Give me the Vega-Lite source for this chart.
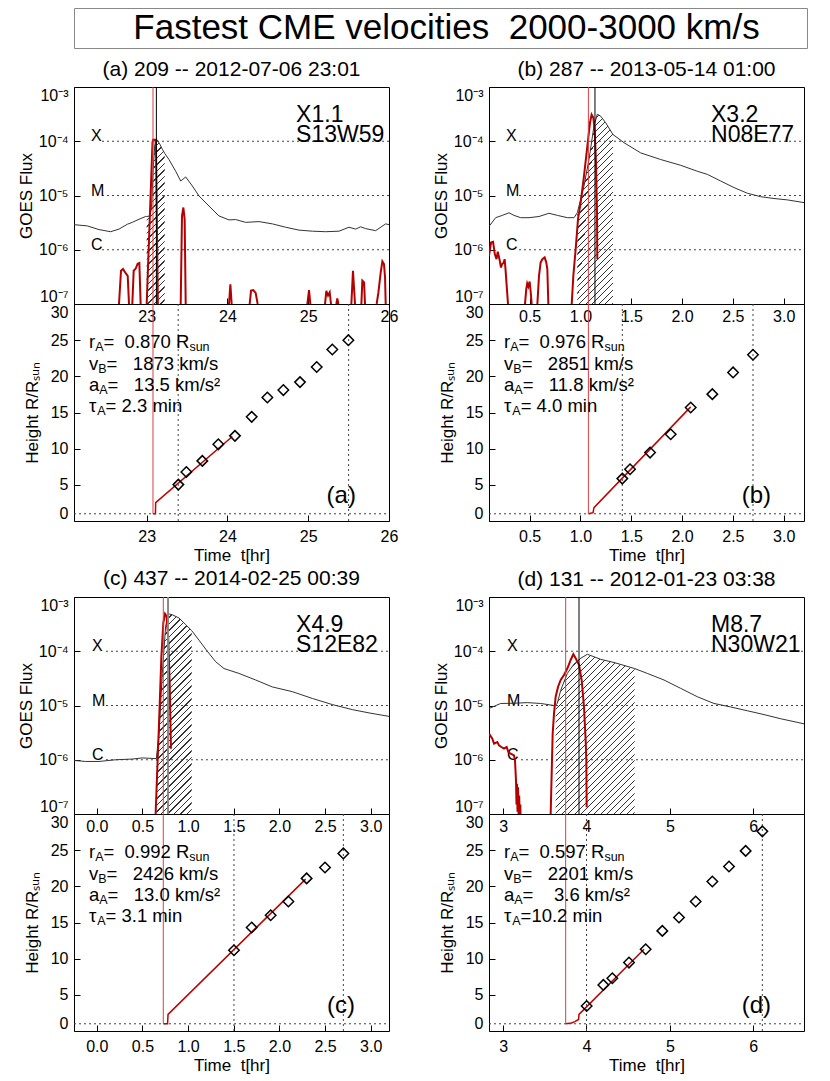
{
"$schema": "https://vega.github.io/schema/vega-lite/v6.json",
"padding": {"left": 16, "top": 7, "right": 5, "bottom": 5},
"background": "white",
"config": {
 "font": "Liberation Sans",
 "view": {"stroke": "#000", "strokeWidth": 1},
 "axis": {"grid": false, "domain": false, "tickSize": -6, "tickColor": "#000", "tickWidth": 1, "labelColor": "#000", "labelFontSize": 16, "labelOverlap": false, "labelFlush": false, "titleColor": "#000", "titleFontSize": 17, "titleFontWeight": "normal"},
 "axisY": {"labelPadding": 12, "labelFlush": true, "labelOverlap": false, "titleAngle": 270, "titleBaseline": "alphabetic"},
 "title": {"fontSize": 21, "fontWeight": "normal", "offset": 7, "baseline": "alphabetic", "frame": "group", "anchor": "middle", "color": "#000"},
 "text": {"color": "#000"}
},
"datasets": {
 "lev": [{"f":1e-4,"c":"X"},{"f":1e-5,"c":"M"},{"f":1e-6,"c":"C"}],
 "ann": [
  {"k":0,"a":"r","s":"A","u":"sun","h":23.86,"pa":"=\u00a0\u00a00.870 R","pb":"=\u00a0\u00a00.976 R","pc":"=\u00a0\u00a00.992 R","pd":"=\u00a0\u00a00.597 R"},
  {"k":1,"a":"v","s":"B","u":"","h":20.91,"pa":"=\u00a0\u00a0\u00a01873 km/s","pb":"=\u00a0\u00a0\u00a02851 km/s","pc":"=\u00a0\u00a0\u00a02426 km/s","pd":"=\u00a0\u00a0\u00a02201 km/s"},
  {"k":2,"a":"a","s":"A","u":"","h":18.0,"pa":"=\u00a0\u00a0\u00a013.5 km/s\u00b2","pb":"=\u00a0\u00a0\u00a011.8 km/s\u00b2","pc":"=\u00a0\u00a0\u00a013.0 km/s\u00b2","pd":"=\u00a0\u00a0\u00a0\u00a03.6 km/s\u00b2"},
  {"k":3,"a":"\u03c4","s":"A","u":"","h":15.1,"pa":"= 2.3 min","pb":"= 4.0 min","pc":"= 3.1 min","pd":"=10.2 min"}
 ],
 "ga": [{"t":22.1,"f":2.9e-6},{"t":22.265,"f":2.75e-6},{"t":22.41,"f":2.35e-6},{"t":22.554,"f":2.15e-6},{"t":22.657,"f":2.4e-6},{"t":22.76,"f":2.95e-6},{"t":22.822,"f":3.2e-6},{"t":22.905,"f":3.65e-6},{"t":22.987,"f":4.1e-6},{"t":23.0,"f":4.1e-6},{"t":23.04,"f":4.2e-6},{"t":23.06,"f":6e-6},{"t":23.08,"f":3e-5},{"t":23.1,"f":8.5e-5},{"t":23.12,"f":1.1e-4},{"t":23.16,"f":9e-5},{"t":23.194,"f":7.1e-5},{"t":23.223,"f":6e-5},{"t":23.276,"f":4.6e-5},{"t":23.359,"f":2.8e-5},{"t":23.421,"f":1.85e-5},{"t":23.483,"f":2.2e-5},{"t":23.565,"f":1.5e-5},{"t":23.648,"f":9.8e-6},{"t":23.771,"f":6.4e-6},{"t":23.895,"f":4.2e-6},{"t":24.019,"f":3.55e-6},{"t":24.102,"f":3.6e-6},{"t":24.225,"f":3.2e-6},{"t":24.39,"f":3.3e-6},{"t":24.556,"f":3.0e-6},{"t":24.721,"f":2.6e-6},{"t":24.886,"f":2.3e-6},{"t":25.051,"f":2.2e-6},{"t":25.216,"f":2.15e-6},{"t":25.381,"f":2.2e-6},{"t":25.505,"f":2.6e-6},{"t":25.587,"f":2.4e-6},{"t":25.649,"f":2.65e-6},{"t":25.711,"f":2.45e-6},{"t":25.835,"f":2.25e-6},{"t":25.959,"f":3.0e-6},{"t":26.0,"f":2.9e-6}],
 "ra": [
  {"s":1,"t":22.657,"f":1e-7},{"s":1,"t":22.682,"f":4.1e-7},{"s":1,"t":22.707,"f":4.4e-7},{"s":1,"t":22.74,"f":3.7e-7},{"s":1,"t":22.765,"f":3.3e-7},{"s":1,"t":22.781,"f":1e-7},
  {"s":2,"t":22.822,"f":1e-7},{"s":2,"t":22.839,"f":4.1e-7},{"s":2,"t":22.864,"f":4.5e-7},{"s":2,"t":22.888,"f":5.5e-7},{"s":2,"t":22.909,"f":5.7e-7},{"s":2,"t":22.925,"f":1e-7},
  {"s":3,"t":23.0,"f":1e-7},{"s":3,"t":23.072,"f":9.5e-5},{"s":3,"t":23.08,"f":1.07e-4},{"s":3,"t":23.105,"f":1.07e-4},{"s":3,"t":23.115,"f":9e-5},{"s":3,"t":23.138,"f":1e-7},
  {"s":4,"t":23.421,"f":1e-7},{"s":4,"t":23.437,"f":4.2e-6},{"s":4,"t":23.454,"f":6.0e-6},{"s":4,"t":23.47,"f":3.6e-6},{"s":4,"t":23.483,"f":1e-7},
  {"s":5,"t":24.019,"f":1e-7},{"s":5,"t":24.036,"f":2.3e-7},{"s":5,"t":24.052,"f":1e-7},
  {"s":6,"t":24.275,"f":1e-7},{"s":6,"t":24.292,"f":1.76e-7},{"s":6,"t":24.32,"f":1.8e-7},{"s":6,"t":24.349,"f":1.6e-7},{"s":6,"t":24.374,"f":1e-7},
  {"s":7,"t":24.989,"f":1e-7},{"s":7,"t":25.01,"f":1.8e-7},{"s":7,"t":25.026,"f":1e-7},
  {"s":8,"t":25.208,"f":1e-7},{"s":8,"t":25.224,"f":1.74e-7},{"s":8,"t":25.245,"f":1.43e-7},{"s":8,"t":25.266,"f":1.64e-7},{"s":8,"t":25.282,"f":1e-7},
  {"s":9,"t":25.348,"f":1e-7},{"s":9,"t":25.36,"f":1.27e-7},{"s":9,"t":25.373,"f":1e-7},
  {"s":10,"t":25.534,"f":1e-7},{"s":10,"t":25.554,"f":4.1e-7},{"s":10,"t":25.579,"f":1e-7},
  {"s":11,"t":25.658,"f":1e-7},{"s":11,"t":25.67,"f":2.7e-7},{"s":11,"t":25.691,"f":2.5e-7},{"s":11,"t":25.703,"f":1e-7},
  {"s":12,"t":25.847,"f":1e-7},{"s":12,"t":25.868,"f":1.6e-7},{"s":12,"t":25.897,"f":3.8e-7},{"s":12,"t":25.918,"f":6.1e-7},{"s":12,"t":25.938,"f":5.45e-7},{"s":12,"t":25.951,"f":3.1e-7},{"s":12,"t":25.959,"f":1e-7}
 ],
 "da": [{"t":23.392,"h":5.03},{"t":23.491,"h":6.78},{"t":23.689,"h":8.31},{"t":23.887,"h":10.6},{"t":24.093,"h":11.77},{"t":24.3,"h":14.4},{"t":24.494,"h":17.07},{"t":24.692,"h":18.1},{"t":24.898,"h":19.2},{"t":25.105,"h":21.3},{"t":25.298,"h":23.7},{"t":25.497,"h":25.0}],
 "fa": [{"t":23.078,"h":1.0},{"t":23.108,"h":1.0},{"t":23.111,"h":2.54},{"t":24.06,"h":11.68}],
 "gb": [{"t":0.1,"f":2.7e-6},{"t":0.166,"f":3.9e-6},{"t":0.231,"f":4.3e-6},{"t":0.297,"f":4.8e-6},{"t":0.346,"f":4.3e-6},{"t":0.412,"f":3.9e-6},{"t":0.494,"f":3.9e-6},{"t":0.592,"f":4.1e-6},{"t":0.69,"f":4.7e-6},{"t":0.773,"f":4.3e-6},{"t":0.871,"f":3.9e-6},{"t":0.937,"f":3.9e-6},{"t":0.969,"f":4.8e-6},{"t":1.035,"f":1.5e-5},{"t":1.084,"f":4.6e-5},{"t":1.133,"f":1.9e-4},{"t":1.166,"f":3.15e-4},{"t":1.199,"f":2.9e-4},{"t":1.248,"f":2.2e-4},{"t":1.32,"f":1.33e-4},{"t":1.429,"f":9.4e-5},{"t":1.593,"f":6.1e-5},{"t":1.79,"f":4.6e-5},{"t":1.987,"f":3.6e-5},{"t":2.15,"f":2.8e-5},{"t":2.249,"f":2.45e-5},{"t":2.38,"f":1.85e-5},{"t":2.511,"f":1.4e-5},{"t":2.643,"f":1.1e-5},{"t":2.774,"f":9.5e-6},{"t":2.905,"f":8.8e-6},{"t":3.036,"f":8.3e-6},{"t":3.2,"f":7.4e-6}],
 "rb": [
  {"s":1,"t":0.1,"f":7.7e-7},{"s":1,"t":0.12,"f":1.36e-6},{"s":1,"t":0.14,"f":1.4e-6},{"s":1,"t":0.157,"f":8.3e-7},{"s":1,"t":0.174,"f":6.7e-7},{"s":1,"t":0.186,"f":9.2e-7},{"s":1,"t":0.203,"f":6.7e-7},{"s":1,"t":0.218,"f":4.7e-7},{"s":1,"t":0.228,"f":5.4e-7},{"s":1,"t":0.244,"f":5.8e-7},{"s":1,"t":0.254,"f":6.7e-7},{"s":1,"t":0.262,"f":4.5e-7},{"s":1,"t":0.287,"f":1e-7},
  {"s":2,"t":0.454,"f":1e-7},{"s":2,"t":0.467,"f":1.9e-7},{"s":2,"t":0.476,"f":2.4e-7},{"s":2,"t":0.487,"f":2.1e-7},{"s":2,"t":0.5,"f":2.6e-7},{"s":2,"t":0.51,"f":1.7e-7},{"s":2,"t":0.52,"f":1e-7},
  {"s":3,"t":0.576,"f":1e-7},{"s":3,"t":0.592,"f":3.3e-7},{"s":3,"t":0.608,"f":5.8e-7},{"s":3,"t":0.625,"f":6.7e-7},{"s":3,"t":0.648,"f":7.2e-7},{"s":3,"t":0.664,"f":5.8e-7},{"s":3,"t":0.674,"f":4.4e-7},{"s":3,"t":0.684,"f":1e-7},
  {"s":4,"t":0.914,"f":1e-7},{"s":4,"t":0.93,"f":3.3e-7},{"s":4,"t":0.953,"f":1.03e-6},{"s":4,"t":0.976,"f":3.66e-6},{"s":4,"t":1.002,"f":7.4e-6},{"s":4,"t":1.035,"f":2.3e-5},{"s":4,"t":1.068,"f":8.1e-5},{"s":4,"t":1.094,"f":2.2e-4},{"s":4,"t":1.11,"f":3.1e-4},{"s":4,"t":1.127,"f":2.7e-4},{"s":4,"t":1.14,"f":1.64e-4},{"s":4,"t":1.153,"f":4.0e-5},{"s":4,"t":1.163,"f":4.8e-6},{"s":4,"t":1.166,"f":6.7e-7}
 ],
 "db": [{"t":1.412,"h":5.86},{"t":1.488,"h":7.15},{"t":1.685,"h":9.46},{"t":1.888,"h":12.0},{"t":2.085,"h":15.69},{"t":2.298,"h":17.54},{"t":2.502,"h":20.54},{"t":2.698,"h":22.98}],
 "fb": [{"t":1.078,"h":1.0},{"t":1.124,"h":1.15},{"t":1.133,"h":1.85},{"t":2.085,"h":15.78}],
 "gc": [{"t":-0.25,"f":9.7e-7},{"t":-0.122,"f":9.3e-7},{"t":0.024,"f":9.3e-7},{"t":0.206,"f":1.0e-6},{"t":0.389,"f":1.03e-6},{"t":0.498,"f":1.08e-6},{"t":0.652,"f":1.05e-6},{"t":0.681,"f":3.0e-6},{"t":0.717,"f":3.9e-5},{"t":0.754,"f":2.9e-4},{"t":0.783,"f":4.9e-4},{"t":0.827,"f":4.7e-4},{"t":0.9,"f":4.1e-4},{"t":0.973,"f":3.1e-4},{"t":1.039,"f":2.4e-4},{"t":1.119,"f":1.6e-4},{"t":1.21,"f":1.0e-4},{"t":1.302,"f":6.4e-5},{"t":1.393,"f":4.8e-5},{"t":1.557,"f":3.9e-5},{"t":1.74,"f":2.95e-5},{"t":1.922,"f":2.2e-5},{"t":2.141,"f":1.8e-5},{"t":2.36,"f":1.35e-5},{"t":2.579,"f":1.04e-5},{"t":2.798,"f":8.4e-6},{"t":2.981,"f":7.3e-6},{"t":3.2,"f":6.3e-6}],
 "rc": [{"t":0.644,"f":1e-7},{"t":0.681,"f":4.6e-6},{"t":0.707,"f":8.0e-5},{"t":0.728,"f":3.3e-4},{"t":0.747,"f":4.9e-4},{"t":0.765,"f":4.4e-4},{"t":0.783,"f":1.6e-4},{"t":0.798,"f":2.55e-5},{"t":0.812,"f":1.6e-6}],
 "dc": [{"t":1.502,"h":11.17},{"t":1.696,"h":14.3},{"t":1.904,"h":16.0},{"t":2.098,"h":17.9},{"t":2.298,"h":21.1},{"t":2.499,"h":22.6},{"t":2.7,"h":24.55}],
 "fc": [{"t":0.728,"h":1.0},{"t":0.775,"h":1.0},{"t":0.78,"h":2.3},{"t":2.287,"h":21.0}],
 "gd": [{"t":2.83,"f":8.8e-6},{"t":2.97,"f":1.09e-5},{"t":3.13,"f":1.1e-5},{"t":3.29,"f":1.13e-5},{"t":3.45,"f":1.09e-5},{"t":3.61,"f":1.0e-5},{"t":3.63,"f":1.02e-5},{"t":3.65,"f":1.1e-5},{"t":3.69,"f":1.9e-5},{"t":3.77,"f":3.9e-5},{"t":3.85,"f":5.8e-5},{"t":3.93,"f":7.4e-5},{"t":4.01,"f":8.8e-5},{"t":4.17,"f":7.1e-5},{"t":4.33,"f":6.2e-5},{"t":4.578,"f":4.8e-5},{"t":4.73,"f":3.9e-5},{"t":4.93,"f":2.95e-5},{"t":5.13,"f":2.07e-5},{"t":5.33,"f":1.45e-5},{"t":5.53,"f":1.09e-5},{"t":5.73,"f":9.4e-6},{"t":5.93,"f":8.0e-6},{"t":6.13,"f":6.8e-6},{"t":6.33,"f":5.7e-6},{"t":6.61,"f":4.6e-6}],
 "rd": [
  {"s":1,"t":2.83,"f":3.03e-6},{"s":1,"t":2.87,"f":2.45e-6},{"s":1,"t":2.89,"f":1.98e-6},{"s":1,"t":2.93,"f":2.12e-6},{"s":1,"t":2.95,"f":1.84e-6},{"s":1,"t":2.978,"f":1.72e-6},{"s":1,"t":3.01,"f":1.6e-6},{"s":1,"t":3.042,"f":1.72e-6},{"s":1,"t":3.062,"f":1.39e-6},{"s":1,"t":3.09,"f":1.29e-6},{"s":1,"t":3.13,"f":1.2e-6},{"s":1,"t":3.142,"f":9.7e-7},{"s":1,"t":3.154,"f":4.1e-7},{"s":1,"t":3.16,"f":1.5e-7},{"s":1,"t":3.166,"f":3.6e-7},{"s":1,"t":3.172,"f":1.1e-7},{"s":1,"t":3.178,"f":3.1e-7},{"s":1,"t":3.186,"f":9e-8},{"s":1,"t":3.192,"f":2.2e-7},{"s":1,"t":3.2,"f":8e-8},{"s":1,"t":3.206,"f":1.5e-7},{"s":1,"t":3.212,"f":5e-8},
  {"s":2,"t":3.57,"f":1e-7},{"s":2,"t":3.582,"f":5.5e-7},{"s":2,"t":3.594,"f":3.0e-6},{"s":2,"t":3.61,"f":7.1e-6},{"s":2,"t":3.63,"f":1.45e-5},{"s":2,"t":3.658,"f":2.2e-5},{"s":2,"t":3.69,"f":2.95e-5},{"s":2,"t":3.73,"f":3.65e-5},{"s":2,"t":3.77,"f":4.8e-5},{"s":2,"t":3.81,"f":6.9e-5},{"s":2,"t":3.842,"f":8.8e-5},{"s":2,"t":3.87,"f":7.4e-5},{"s":2,"t":3.91,"f":5.6e-5},{"s":2,"t":3.942,"f":2.95e-5},{"s":2,"t":3.97,"f":9.4e-6},{"s":2,"t":3.99,"f":2.28e-6},{"s":2,"t":3.998,"f":9.7e-7},{"s":2,"t":4.002,"f":1.33e-7}
 ],
 "dd": [{"t":4.002,"h":3.46},{"t":4.202,"h":6.37},{"t":4.31,"h":7.29},{"t":4.51,"h":9.46},{"t":4.71,"h":11.3},{"t":4.91,"h":13.84},{"t":5.11,"h":15.69},{"t":5.31,"h":17.9},{"t":5.51,"h":20.67},{"t":5.71,"h":22.75},{"t":5.91,"h":24.9},{"t":6.11,"h":27.6}],
 "fd": [{"t":3.75,"h":1.0},{"t":3.82,"h":1.1},{"t":3.86,"h":1.3},{"t":3.905,"h":1.6},{"t":3.91,"h":2.3},{"t":4.69,"h":11.3}]
},
"spacing": 9,
"vconcat": [
 {"width": 733, "height": 40, "view": {"stroke": "#888", "strokeWidth": 1},
  "data": {"values": [{"txt": "Fastest CME velocities\u00a0\u00a02000-3000 km/s"}]},
  "mark": {"type": "text", "fontSize": 35, "baseline": "middle", "dx": 6},
  "encoding": {"text": {"field": "txt"}}},
 {"columns": 2, "bounds": "flush", "spacing": {"row": 0, "column": 100}, "concat": [
    {"width": 315, "height": 217, "title": {"text": "(a) 209 -- 2012-07-06 23:01"},
     "data": {"name": "ga"},
     "layer": [
      {"transform": [{"filter": "datum.t >= 23.0 && datum.t <= 23.223"}], "mark": {"type": "area", "clip": true, "fill": {"gradient": "linear", "x1": 0, "y1": 0, "x2": 0.1699, "y2": 1.557, "stops": [{"offset":0.01,"color":"#fff"},{"offset":0.01,"color":"#333"},{"offset":0.0154,"color":"#333"},{"offset":0.0154,"color":"#fff"},{"offset":0.035,"color":"#fff"},{"offset":0.035,"color":"#333"},{"offset":0.0404,"color":"#333"},{"offset":0.0404,"color":"#fff"},{"offset":0.06,"color":"#fff"},{"offset":0.06,"color":"#333"},{"offset":0.0654,"color":"#333"},{"offset":0.0654,"color":"#fff"},{"offset":0.085,"color":"#fff"},{"offset":0.085,"color":"#333"},{"offset":0.0904,"color":"#333"},{"offset":0.0904,"color":"#fff"},{"offset":0.11,"color":"#fff"},{"offset":0.11,"color":"#333"},{"offset":0.1154,"color":"#333"},{"offset":0.1154,"color":"#fff"},{"offset":0.135,"color":"#fff"},{"offset":0.135,"color":"#333"},{"offset":0.1404,"color":"#333"},{"offset":0.1404,"color":"#fff"},{"offset":0.16,"color":"#fff"},{"offset":0.16,"color":"#333"},{"offset":0.1654,"color":"#333"},{"offset":0.1654,"color":"#fff"},{"offset":0.185,"color":"#fff"},{"offset":0.185,"color":"#333"},{"offset":0.1904,"color":"#333"},{"offset":0.1904,"color":"#fff"},{"offset":0.21,"color":"#fff"},{"offset":0.21,"color":"#333"},{"offset":0.2154,"color":"#333"},{"offset":0.2154,"color":"#fff"},{"offset":0.235,"color":"#fff"},{"offset":0.235,"color":"#333"},{"offset":0.2404,"color":"#333"},{"offset":0.2404,"color":"#fff"},{"offset":0.26,"color":"#fff"},{"offset":0.26,"color":"#333"},{"offset":0.2654,"color":"#333"},{"offset":0.2654,"color":"#fff"},{"offset":0.285,"color":"#fff"},{"offset":0.285,"color":"#333"},{"offset":0.2904,"color":"#333"},{"offset":0.2904,"color":"#fff"},{"offset":0.31,"color":"#fff"},{"offset":0.31,"color":"#333"},{"offset":0.3154,"color":"#333"},{"offset":0.3154,"color":"#fff"},{"offset":0.335,"color":"#fff"},{"offset":0.335,"color":"#333"},{"offset":0.3404,"color":"#333"},{"offset":0.3404,"color":"#fff"},{"offset":0.36,"color":"#fff"},{"offset":0.36,"color":"#333"},{"offset":0.3654,"color":"#333"},{"offset":0.3654,"color":"#fff"},{"offset":0.385,"color":"#fff"},{"offset":0.385,"color":"#333"},{"offset":0.3904,"color":"#333"},{"offset":0.3904,"color":"#fff"},{"offset":0.41,"color":"#fff"},{"offset":0.41,"color":"#333"},{"offset":0.4154,"color":"#333"},{"offset":0.4154,"color":"#fff"},{"offset":0.435,"color":"#fff"},{"offset":0.435,"color":"#333"},{"offset":0.4404,"color":"#333"},{"offset":0.4404,"color":"#fff"},{"offset":0.46,"color":"#fff"},{"offset":0.46,"color":"#333"},{"offset":0.4654,"color":"#333"},{"offset":0.4654,"color":"#fff"},{"offset":0.485,"color":"#fff"},{"offset":0.485,"color":"#333"},{"offset":0.4904,"color":"#333"},{"offset":0.4904,"color":"#fff"},{"offset":0.51,"color":"#fff"},{"offset":0.51,"color":"#333"},{"offset":0.5154,"color":"#333"},{"offset":0.5154,"color":"#fff"},{"offset":0.535,"color":"#fff"},{"offset":0.535,"color":"#333"},{"offset":0.5404,"color":"#333"},{"offset":0.5404,"color":"#fff"},{"offset":0.56,"color":"#fff"},{"offset":0.56,"color":"#333"},{"offset":0.5654,"color":"#333"},{"offset":0.5654,"color":"#fff"},{"offset":0.585,"color":"#fff"},{"offset":0.585,"color":"#333"},{"offset":0.5904,"color":"#333"},{"offset":0.5904,"color":"#fff"},{"offset":0.61,"color":"#fff"},{"offset":0.61,"color":"#333"},{"offset":0.6154,"color":"#333"},{"offset":0.6154,"color":"#fff"},{"offset":0.635,"color":"#fff"},{"offset":0.635,"color":"#333"},{"offset":0.6404,"color":"#333"},{"offset":0.6404,"color":"#fff"},{"offset":0.66,"color":"#fff"},{"offset":0.66,"color":"#333"},{"offset":0.6654,"color":"#333"},{"offset":0.6654,"color":"#fff"},{"offset":0.685,"color":"#fff"},{"offset":0.685,"color":"#333"},{"offset":0.6904,"color":"#333"},{"offset":0.6904,"color":"#fff"},{"offset":0.71,"color":"#fff"},{"offset":0.71,"color":"#333"},{"offset":0.7154,"color":"#333"},{"offset":0.7154,"color":"#fff"}]}}, "encoding": {
        "x": {"field": "t", "type": "quantitative", "scale": {"domain": [22.1, 26], "nice": false, "zero": false}, "axis": {"values": [23,24,25,26], "format": "d", "title": null, "labelPadding": 10}},
        "y": {"field": "f", "type": "quantitative", "scale": {"type": "log", "domain": [1e-7, 1e-3], "nice": false}, "axis": {"values": [1e-7,1e-6,1e-5,1e-4,1e-3], "labelExpr": "'10' + ['\u2070','\u207b\u00b9','\u207b\u00b2','\u207b\u00b3','\u207b\u2074','\u207b\u2075','\u207b\u2076','\u207b\u2077'][round(-log(datum.value)/LN10)]", "title": "GOES Flux", "titleX": -43, "labelOverlap": false}},
        "y2": {"datum": 1e-7}}},
      {"data": {"name": "lev"}, "mark": {"type": "rule", "strokeDash": [2,3], "color": "#444"}, "encoding": {"x": {"datum": 22.447}, "x2": {"datum": 26}, "y": {"field": "f", "type": "quantitative"}}},
      {"data": {"name": "lev"}, "mark": {"type": "text", "align": "left", "baseline": "alphabetic", "fontSize": 16}, "encoding": {"x": {"datum": 22.31}, "y": {"field": "f", "type": "quantitative"}, "text": {"field": "c"}}},
      {"mark": {"type": "line", "color": "#333", "strokeWidth": 1, "clip": true}, "encoding": {"x": {"field": "t", "type": "quantitative"}, "y": {"field": "f", "type": "quantitative"}}},
      {"data": {"name": "ra"}, "mark": {"type": "line", "color": "#b40000", "strokeWidth": 2, "clip": true}, "encoding": {"x": {"field": "t", "type": "quantitative"}, "y": {"field": "f", "type": "quantitative"}, "detail": {"field": "s"}}},
      {"data": {"values": [{"t": 23.078}]}, "mark": {"type": "rule", "color": "#e03c3c", "strokeWidth": 1}, "encoding": {"x": {"field": "t", "type": "quantitative"}, "y": {"datum": 1e-3}, "y2": {"datum": 1e-7}}},
      {"data": {"values": [{"t": 23.12}]}, "mark": {"type": "rule", "color": "#000", "strokeWidth": 1}, "encoding": {"x": {"field": "t", "type": "quantitative"}, "y": {"datum": 1e-3}, "y2": {"datum": 1e-7}}},
      {"data": {"values": [{"t": 24.85, "f": 2.3e-4, "txt": "X1.1"}, {"t": 24.85, "f": 9.6e-5, "txt": "S13W59"}]}, "mark": {"type": "text", "align": "left", "baseline": "alphabetic", "fontSize": 23}, "encoding": {"x": {"field": "t", "type": "quantitative"}, "y": {"field": "f", "type": "quantitative"}, "text": {"field": "txt"}}}
     ]},
    {"width": 315, "height": 217, "title": {"text": "(b) 287 -- 2013-05-14 01:00"},
     "data": {"name": "gb"},
     "layer": [
      {"transform": [{"filter": "datum.t >= 0.969 && datum.t <= 1.32"}], "mark": {"type": "area", "clip": true, "fill": {"gradient": "linear", "x1": 0, "y1": 0, "x2": 0.2489, "y2": 1.323, "stops": [{"offset":0.01,"color":"#fff"},{"offset":0.01,"color":"#333"},{"offset":0.0154,"color":"#333"},{"offset":0.0154,"color":"#fff"},{"offset":0.035,"color":"#fff"},{"offset":0.035,"color":"#333"},{"offset":0.0404,"color":"#333"},{"offset":0.0404,"color":"#fff"},{"offset":0.06,"color":"#fff"},{"offset":0.06,"color":"#333"},{"offset":0.0654,"color":"#333"},{"offset":0.0654,"color":"#fff"},{"offset":0.085,"color":"#fff"},{"offset":0.085,"color":"#333"},{"offset":0.0904,"color":"#333"},{"offset":0.0904,"color":"#fff"},{"offset":0.11,"color":"#fff"},{"offset":0.11,"color":"#333"},{"offset":0.1154,"color":"#333"},{"offset":0.1154,"color":"#fff"},{"offset":0.135,"color":"#fff"},{"offset":0.135,"color":"#333"},{"offset":0.1404,"color":"#333"},{"offset":0.1404,"color":"#fff"},{"offset":0.16,"color":"#fff"},{"offset":0.16,"color":"#333"},{"offset":0.1654,"color":"#333"},{"offset":0.1654,"color":"#fff"},{"offset":0.185,"color":"#fff"},{"offset":0.185,"color":"#333"},{"offset":0.1904,"color":"#333"},{"offset":0.1904,"color":"#fff"},{"offset":0.21,"color":"#fff"},{"offset":0.21,"color":"#333"},{"offset":0.2154,"color":"#333"},{"offset":0.2154,"color":"#fff"},{"offset":0.235,"color":"#fff"},{"offset":0.235,"color":"#333"},{"offset":0.2404,"color":"#333"},{"offset":0.2404,"color":"#fff"},{"offset":0.26,"color":"#fff"},{"offset":0.26,"color":"#333"},{"offset":0.2654,"color":"#333"},{"offset":0.2654,"color":"#fff"},{"offset":0.285,"color":"#fff"},{"offset":0.285,"color":"#333"},{"offset":0.2904,"color":"#333"},{"offset":0.2904,"color":"#fff"},{"offset":0.31,"color":"#fff"},{"offset":0.31,"color":"#333"},{"offset":0.3154,"color":"#333"},{"offset":0.3154,"color":"#fff"},{"offset":0.335,"color":"#fff"},{"offset":0.335,"color":"#333"},{"offset":0.3404,"color":"#333"},{"offset":0.3404,"color":"#fff"},{"offset":0.36,"color":"#fff"},{"offset":0.36,"color":"#333"},{"offset":0.3654,"color":"#333"},{"offset":0.3654,"color":"#fff"},{"offset":0.385,"color":"#fff"},{"offset":0.385,"color":"#333"},{"offset":0.3904,"color":"#333"},{"offset":0.3904,"color":"#fff"},{"offset":0.41,"color":"#fff"},{"offset":0.41,"color":"#333"},{"offset":0.4154,"color":"#333"},{"offset":0.4154,"color":"#fff"},{"offset":0.435,"color":"#fff"},{"offset":0.435,"color":"#333"},{"offset":0.4404,"color":"#333"},{"offset":0.4404,"color":"#fff"},{"offset":0.46,"color":"#fff"},{"offset":0.46,"color":"#333"},{"offset":0.4654,"color":"#333"},{"offset":0.4654,"color":"#fff"},{"offset":0.485,"color":"#fff"},{"offset":0.485,"color":"#333"},{"offset":0.4904,"color":"#333"},{"offset":0.4904,"color":"#fff"},{"offset":0.51,"color":"#fff"},{"offset":0.51,"color":"#333"},{"offset":0.5154,"color":"#333"},{"offset":0.5154,"color":"#fff"},{"offset":0.535,"color":"#fff"},{"offset":0.535,"color":"#333"},{"offset":0.5404,"color":"#333"},{"offset":0.5404,"color":"#fff"},{"offset":0.56,"color":"#fff"},{"offset":0.56,"color":"#333"},{"offset":0.5654,"color":"#333"},{"offset":0.5654,"color":"#fff"},{"offset":0.585,"color":"#fff"},{"offset":0.585,"color":"#333"},{"offset":0.5904,"color":"#333"},{"offset":0.5904,"color":"#fff"},{"offset":0.61,"color":"#fff"},{"offset":0.61,"color":"#333"},{"offset":0.6154,"color":"#333"},{"offset":0.6154,"color":"#fff"},{"offset":0.635,"color":"#fff"},{"offset":0.635,"color":"#333"},{"offset":0.6404,"color":"#333"},{"offset":0.6404,"color":"#fff"},{"offset":0.66,"color":"#fff"},{"offset":0.66,"color":"#333"},{"offset":0.6654,"color":"#333"},{"offset":0.6654,"color":"#fff"},{"offset":0.685,"color":"#fff"},{"offset":0.685,"color":"#333"},{"offset":0.6904,"color":"#333"},{"offset":0.6904,"color":"#fff"},{"offset":0.71,"color":"#fff"},{"offset":0.71,"color":"#333"},{"offset":0.7154,"color":"#333"},{"offset":0.7154,"color":"#fff"},{"offset":0.735,"color":"#fff"},{"offset":0.735,"color":"#333"},{"offset":0.7404,"color":"#333"},{"offset":0.7404,"color":"#fff"},{"offset":0.76,"color":"#fff"},{"offset":0.76,"color":"#333"},{"offset":0.7654,"color":"#333"},{"offset":0.7654,"color":"#fff"},{"offset":0.785,"color":"#fff"},{"offset":0.785,"color":"#333"},{"offset":0.7904,"color":"#333"},{"offset":0.7904,"color":"#fff"},{"offset":0.81,"color":"#fff"},{"offset":0.81,"color":"#333"},{"offset":0.8154,"color":"#333"},{"offset":0.8154,"color":"#fff"},{"offset":0.835,"color":"#fff"},{"offset":0.835,"color":"#333"},{"offset":0.8404,"color":"#333"},{"offset":0.8404,"color":"#fff"},{"offset":0.86,"color":"#fff"},{"offset":0.86,"color":"#333"},{"offset":0.8654,"color":"#333"},{"offset":0.8654,"color":"#fff"}]}}, "encoding": {
        "x": {"field": "t", "type": "quantitative", "scale": {"domain": [0.1, 3.2], "nice": false, "zero": false}, "axis": {"values": [0.5,1,1.5,2,2.5,3], "format": ".1f", "title": null, "labelPadding": 10}},
        "y": {"field": "f", "type": "quantitative", "scale": {"type": "log", "domain": [1e-7, 1e-3], "nice": false}, "axis": {"values": [1e-7,1e-6,1e-5,1e-4,1e-3], "labelExpr": "'10' + ['\u2070','\u207b\u00b9','\u207b\u00b2','\u207b\u00b3','\u207b\u2074','\u207b\u2075','\u207b\u2076','\u207b\u2077'][round(-log(datum.value)/LN10)]", "title": "GOES Flux", "titleX": -43, "labelOverlap": false}},
        "y2": {"datum": 1e-7}}},
      {"data": {"name": "lev"}, "mark": {"type": "rule", "strokeDash": [2,3], "color": "#444"}, "encoding": {"x": {"datum": 0.395}, "x2": {"datum": 3.2}, "y": {"field": "f", "type": "quantitative"}}},
      {"data": {"name": "lev"}, "mark": {"type": "text", "align": "left", "baseline": "alphabetic", "fontSize": 16}, "encoding": {"x": {"datum": 0.267}, "y": {"field": "f", "type": "quantitative"}, "text": {"field": "c"}}},
      {"mark": {"type": "line", "color": "#333", "strokeWidth": 1, "clip": true}, "encoding": {"x": {"field": "t", "type": "quantitative"}, "y": {"field": "f", "type": "quantitative"}}},
      {"data": {"name": "rb"}, "mark": {"type": "line", "color": "#b40000", "strokeWidth": 2, "clip": true}, "encoding": {"x": {"field": "t", "type": "quantitative"}, "y": {"field": "f", "type": "quantitative"}, "detail": {"field": "s"}}},
      {"data": {"values": [{"t": 1.078}]}, "mark": {"type": "rule", "color": "#e03c3c", "strokeWidth": 1}, "encoding": {"x": {"field": "t", "type": "quantitative"}, "y": {"datum": 1e-3}, "y2": {"datum": 1e-7}}},
      {"data": {"values": [{"t": 1.143}]}, "mark": {"type": "rule", "color": "#000", "strokeWidth": 1}, "encoding": {"x": {"field": "t", "type": "quantitative"}, "y": {"datum": 1e-3}, "y2": {"datum": 1e-7}}},
      {"data": {"values": [{"t": 2.285, "f": 2.3e-4, "txt": "X3.2"}, {"t": 2.285, "f": 9.6e-5, "txt": "N08E77"}]}, "mark": {"type": "text", "align": "left", "baseline": "alphabetic", "fontSize": 23}, "encoding": {"x": {"field": "t", "type": "quantitative"}, "y": {"field": "f", "type": "quantitative"}, "text": {"field": "txt"}}}
     ]},
    {"width": 315, "height": 217, "data": {"name": "da"},
     "layer": [
      {"data": {"name": "fa"}, "mark": {"type": "line", "color": "#c00000", "strokeWidth": 1.5}, "encoding": {
        "x": {"field": "t", "type": "quantitative", "scale": {"domain": [22.1, 26], "nice": false, "zero": false}, "axis": {"values": [23,24,25,26], "format": "d", "title": "Time\u00a0\u00a0t[hr]", "labelPadding": 13, "titleY": 39, "titleBaseline": "alphabetic"}},
        "y": {"field": "h", "type": "quantitative", "scale": {"domain": [0, 30], "nice": false, "zero": false}, "axis": {"values": [0,5,10,15,20,25,30], "tickCount": 7, "title": "Height R/R\u209b\u1d64\u2099", "titleX": -37, "labelOverlap": false}}}},
      {"data": {"values": [{}]}, "mark": {"type": "rule", "strokeDash": [2,3], "color": "#444"}, "encoding": {"x": {"datum": 22.1}, "x2": {"datum": 26}, "y": {"datum": 1}}},
      {"data": {"values": [{"t": 23.39}, {"t": 25.5}]}, "mark": {"type": "rule", "strokeDash": [2,3], "color": "#444"}, "encoding": {"x": {"field": "t", "type": "quantitative"}, "y": {"datum": 0}, "y2": {"datum": 30}}},
      {"data": {"values": [{"t": 23.078}]}, "mark": {"type": "rule", "color": "#e03c3c", "strokeWidth": 1}, "encoding": {"x": {"field": "t", "type": "quantitative"}, "y": {"datum": 1}, "y2": {"datum": 30}}},
      {"mark": {"type": "point", "shape": "diamond", "filled": false, "color": "#000", "strokeWidth": 1.5, "size": 110, "opacity": 1}, "encoding": {"x": {"field": "t", "type": "quantitative"}, "y": {"field": "h", "type": "quantitative"}}},
      {"data": {"name": "ann"}, "mark": {"type": "text", "align": "left", "baseline": "alphabetic", "fontSize": 18.5}, "encoding": {"x": {"datum": 22.286}, "y": {"field": "h", "type": "quantitative"}, "text": {"field": "a"}}},
      {"data": {"name": "ann"}, "mark": {"type": "text", "align": "left", "baseline": "alphabetic", "fontSize": 12.5, "dx": {"expr": "[6.2,9.3,10.3,8.3][datum.k]"}, "dy": 3}, "encoding": {"x": {"datum": 22.286}, "y": {"field": "h", "type": "quantitative"}, "text": {"field": "s"}}},
      {"data": {"name": "ann"}, "mark": {"type": "text", "align": "left", "baseline": "alphabetic", "fontSize": 18.5, "dx": {"expr": "[14.5,17.6,18.6,16.6][datum.k]"}}, "encoding": {"x": {"datum": 22.286}, "y": {"field": "h", "type": "quantitative"}, "text": {"field": "pa"}}},
      {"data": {"name": "ann"}, "mark": {"type": "text", "align": "left", "baseline": "alphabetic", "fontSize": 12.5, "dx": 100.4, "dy": 3}, "encoding": {"x": {"datum": 22.286}, "y": {"field": "h", "type": "quantitative"}, "text": {"field": "u"}}},
      {"data": {"values": [{}]}, "mark": {"type": "text", "align": "right", "baseline": "alphabetic", "fontSize": 24}, "encoding": {"x": {"datum": 25.59}, "y": {"datum": 2.53}, "text": {"value": "(a)"}}}
     ]},
    {"width": 315, "height": 217, "data": {"name": "db"},
     "layer": [
      {"data": {"name": "fb"}, "mark": {"type": "line", "color": "#c00000", "strokeWidth": 1.5}, "encoding": {
        "x": {"field": "t", "type": "quantitative", "scale": {"domain": [0.1, 3.2], "nice": false, "zero": false}, "axis": {"values": [0.5,1,1.5,2,2.5,3], "format": ".1f", "title": "Time\u00a0\u00a0t[hr]", "labelPadding": 13, "titleY": 39, "titleBaseline": "alphabetic"}},
        "y": {"field": "h", "type": "quantitative", "scale": {"domain": [0, 30], "nice": false, "zero": false}, "axis": {"values": [0,5,10,15,20,25,30], "tickCount": 7, "title": "Height R/R\u209b\u1d64\u2099", "titleX": -37, "labelOverlap": false}}}},
      {"data": {"values": [{}]}, "mark": {"type": "rule", "strokeDash": [2,3], "color": "#444"}, "encoding": {"x": {"datum": 0.1}, "x2": {"datum": 3.2}, "y": {"datum": 1}}},
      {"data": {"values": [{"t": 1.412}, {"t": 2.698}]}, "mark": {"type": "rule", "strokeDash": [2,3], "color": "#444"}, "encoding": {"x": {"field": "t", "type": "quantitative"}, "y": {"datum": 0}, "y2": {"datum": 30}}},
      {"data": {"values": [{"t": 1.078}]}, "mark": {"type": "rule", "color": "#e03c3c", "strokeWidth": 1}, "encoding": {"x": {"field": "t", "type": "quantitative"}, "y": {"datum": 1}, "y2": {"datum": 30}}},
      {"mark": {"type": "point", "shape": "diamond", "filled": false, "color": "#000", "strokeWidth": 1.5, "size": 110, "opacity": 1}, "encoding": {"x": {"field": "t", "type": "quantitative"}, "y": {"field": "h", "type": "quantitative"}}},
      {"data": {"name": "ann"}, "mark": {"type": "text", "align": "left", "baseline": "alphabetic", "fontSize": 18.5}, "encoding": {"x": {"datum": 0.248}, "y": {"field": "h", "type": "quantitative"}, "text": {"field": "a"}}},
      {"data": {"name": "ann"}, "mark": {"type": "text", "align": "left", "baseline": "alphabetic", "fontSize": 12.5, "dx": {"expr": "[6.2,9.3,10.3,8.3][datum.k]"}, "dy": 3}, "encoding": {"x": {"datum": 0.248}, "y": {"field": "h", "type": "quantitative"}, "text": {"field": "s"}}},
      {"data": {"name": "ann"}, "mark": {"type": "text", "align": "left", "baseline": "alphabetic", "fontSize": 18.5, "dx": {"expr": "[14.5,17.6,18.6,16.6][datum.k]"}}, "encoding": {"x": {"datum": 0.248}, "y": {"field": "h", "type": "quantitative"}, "text": {"field": "pb"}}},
      {"data": {"name": "ann"}, "mark": {"type": "text", "align": "left", "baseline": "alphabetic", "fontSize": 12.5, "dx": 100.4, "dy": 3}, "encoding": {"x": {"datum": 0.248}, "y": {"field": "h", "type": "quantitative"}, "text": {"field": "u"}}},
      {"data": {"values": [{}]}, "mark": {"type": "text", "align": "right", "baseline": "alphabetic", "fontSize": 24}, "encoding": {"x": {"datum": 2.876}, "y": {"datum": 2.53}, "text": {"value": "(b)"}}}
     ]},
    {"width": 315, "height": 76, "view": {"stroke": null}, "data": {"values": [{}]}, "mark": {"type": "text", "text": ""}},
    {"width": 315, "height": 76, "view": {"stroke": null}, "data": {"values": [{}]}, "mark": {"type": "text", "text": ""}},
    {"width": 315, "height": 217, "title": {"text": "(c) 437 -- 2014-02-25 00:39"},
     "data": {"name": "gc"},
     "layer": [
      {"transform": [{"filter": "datum.t >= 0.652 && datum.t <= 1.039"}], "mark": {"type": "area", "clip": true, "fill": {"gradient": "linear", "x1": 0, "y1": 0, "x2": 0.2221, "y2": 1.2596, "stops": [{"offset":0.01,"color":"#fff"},{"offset":0.01,"color":"#333"},{"offset":0.0154,"color":"#333"},{"offset":0.0154,"color":"#fff"},{"offset":0.035,"color":"#fff"},{"offset":0.035,"color":"#333"},{"offset":0.0404,"color":"#333"},{"offset":0.0404,"color":"#fff"},{"offset":0.06,"color":"#fff"},{"offset":0.06,"color":"#333"},{"offset":0.0654,"color":"#333"},{"offset":0.0654,"color":"#fff"},{"offset":0.085,"color":"#fff"},{"offset":0.085,"color":"#333"},{"offset":0.0904,"color":"#333"},{"offset":0.0904,"color":"#fff"},{"offset":0.11,"color":"#fff"},{"offset":0.11,"color":"#333"},{"offset":0.1154,"color":"#333"},{"offset":0.1154,"color":"#fff"},{"offset":0.135,"color":"#fff"},{"offset":0.135,"color":"#333"},{"offset":0.1404,"color":"#333"},{"offset":0.1404,"color":"#fff"},{"offset":0.16,"color":"#fff"},{"offset":0.16,"color":"#333"},{"offset":0.1654,"color":"#333"},{"offset":0.1654,"color":"#fff"},{"offset":0.185,"color":"#fff"},{"offset":0.185,"color":"#333"},{"offset":0.1904,"color":"#333"},{"offset":0.1904,"color":"#fff"},{"offset":0.21,"color":"#fff"},{"offset":0.21,"color":"#333"},{"offset":0.2154,"color":"#333"},{"offset":0.2154,"color":"#fff"},{"offset":0.235,"color":"#fff"},{"offset":0.235,"color":"#333"},{"offset":0.2404,"color":"#333"},{"offset":0.2404,"color":"#fff"},{"offset":0.26,"color":"#fff"},{"offset":0.26,"color":"#333"},{"offset":0.2654,"color":"#333"},{"offset":0.2654,"color":"#fff"},{"offset":0.285,"color":"#fff"},{"offset":0.285,"color":"#333"},{"offset":0.2904,"color":"#333"},{"offset":0.2904,"color":"#fff"},{"offset":0.31,"color":"#fff"},{"offset":0.31,"color":"#333"},{"offset":0.3154,"color":"#333"},{"offset":0.3154,"color":"#fff"},{"offset":0.335,"color":"#fff"},{"offset":0.335,"color":"#333"},{"offset":0.3404,"color":"#333"},{"offset":0.3404,"color":"#fff"},{"offset":0.36,"color":"#fff"},{"offset":0.36,"color":"#333"},{"offset":0.3654,"color":"#333"},{"offset":0.3654,"color":"#fff"},{"offset":0.385,"color":"#fff"},{"offset":0.385,"color":"#333"},{"offset":0.3904,"color":"#333"},{"offset":0.3904,"color":"#fff"},{"offset":0.41,"color":"#fff"},{"offset":0.41,"color":"#333"},{"offset":0.4154,"color":"#333"},{"offset":0.4154,"color":"#fff"},{"offset":0.435,"color":"#fff"},{"offset":0.435,"color":"#333"},{"offset":0.4404,"color":"#333"},{"offset":0.4404,"color":"#fff"},{"offset":0.46,"color":"#fff"},{"offset":0.46,"color":"#333"},{"offset":0.4654,"color":"#333"},{"offset":0.4654,"color":"#fff"},{"offset":0.485,"color":"#fff"},{"offset":0.485,"color":"#333"},{"offset":0.4904,"color":"#333"},{"offset":0.4904,"color":"#fff"},{"offset":0.51,"color":"#fff"},{"offset":0.51,"color":"#333"},{"offset":0.5154,"color":"#333"},{"offset":0.5154,"color":"#fff"},{"offset":0.535,"color":"#fff"},{"offset":0.535,"color":"#333"},{"offset":0.5404,"color":"#333"},{"offset":0.5404,"color":"#fff"},{"offset":0.56,"color":"#fff"},{"offset":0.56,"color":"#333"},{"offset":0.5654,"color":"#333"},{"offset":0.5654,"color":"#fff"},{"offset":0.585,"color":"#fff"},{"offset":0.585,"color":"#333"},{"offset":0.5904,"color":"#333"},{"offset":0.5904,"color":"#fff"},{"offset":0.61,"color":"#fff"},{"offset":0.61,"color":"#333"},{"offset":0.6154,"color":"#333"},{"offset":0.6154,"color":"#fff"},{"offset":0.635,"color":"#fff"},{"offset":0.635,"color":"#333"},{"offset":0.6404,"color":"#333"},{"offset":0.6404,"color":"#fff"},{"offset":0.66,"color":"#fff"},{"offset":0.66,"color":"#333"},{"offset":0.6654,"color":"#333"},{"offset":0.6654,"color":"#fff"},{"offset":0.685,"color":"#fff"},{"offset":0.685,"color":"#333"},{"offset":0.6904,"color":"#333"},{"offset":0.6904,"color":"#fff"},{"offset":0.71,"color":"#fff"},{"offset":0.71,"color":"#333"},{"offset":0.7154,"color":"#333"},{"offset":0.7154,"color":"#fff"},{"offset":0.735,"color":"#fff"},{"offset":0.735,"color":"#333"},{"offset":0.7404,"color":"#333"},{"offset":0.7404,"color":"#fff"},{"offset":0.76,"color":"#fff"},{"offset":0.76,"color":"#333"},{"offset":0.7654,"color":"#333"},{"offset":0.7654,"color":"#fff"},{"offset":0.785,"color":"#fff"},{"offset":0.785,"color":"#333"},{"offset":0.7904,"color":"#333"},{"offset":0.7904,"color":"#fff"},{"offset":0.81,"color":"#fff"},{"offset":0.81,"color":"#333"},{"offset":0.8154,"color":"#333"},{"offset":0.8154,"color":"#fff"},{"offset":0.835,"color":"#fff"},{"offset":0.835,"color":"#333"},{"offset":0.8404,"color":"#333"},{"offset":0.8404,"color":"#fff"},{"offset":0.86,"color":"#fff"},{"offset":0.86,"color":"#333"},{"offset":0.8654,"color":"#333"},{"offset":0.8654,"color":"#fff"},{"offset":0.885,"color":"#fff"},{"offset":0.885,"color":"#333"},{"offset":0.8904,"color":"#333"},{"offset":0.8904,"color":"#fff"},{"offset":0.91,"color":"#fff"},{"offset":0.91,"color":"#333"},{"offset":0.9154,"color":"#333"},{"offset":0.9154,"color":"#fff"}]}}, "encoding": {
        "x": {"field": "t", "type": "quantitative", "scale": {"domain": [-0.25, 3.2], "nice": false, "zero": false}, "axis": {"values": [0,0.5,1,1.5,2,2.5,3], "format": ".1f", "title": null, "labelPadding": 10}},
        "y": {"field": "f", "type": "quantitative", "scale": {"type": "log", "domain": [1e-7, 1e-3], "nice": false}, "axis": {"values": [1e-7,1e-6,1e-5,1e-4,1e-3], "labelExpr": "'10' + ['\u2070','\u207b\u00b9','\u207b\u00b2','\u207b\u00b3','\u207b\u2074','\u207b\u2075','\u207b\u2076','\u207b\u2077'][round(-log(datum.value)/LN10)]", "title": "GOES Flux", "titleX": -43, "labelOverlap": false}},
        "y2": {"datum": 1e-7}}},
      {"data": {"name": "lev"}, "mark": {"type": "rule", "strokeDash": [2,3], "color": "#444"}, "encoding": {"x": {"datum": 0.1}, "x2": {"datum": 3.2}, "y": {"field": "f", "type": "quantitative"}}},
      {"data": {"name": "lev"}, "mark": {"type": "text", "align": "left", "baseline": "alphabetic", "fontSize": 16}, "encoding": {"x": {"datum": -0.053}, "y": {"field": "f", "type": "quantitative"}, "text": {"field": "c"}}},
      {"mark": {"type": "line", "color": "#333", "strokeWidth": 1, "clip": true}, "encoding": {"x": {"field": "t", "type": "quantitative"}, "y": {"field": "f", "type": "quantitative"}}},
      {"data": {"name": "rc"}, "mark": {"type": "line", "color": "#b40000", "strokeWidth": 2, "clip": true}, "encoding": {"x": {"field": "t", "type": "quantitative"}, "y": {"field": "f", "type": "quantitative"}}},
      {"data": {"values": [{"t": 0.728}]}, "mark": {"type": "rule", "color": "#e03c3c", "strokeWidth": 1}, "encoding": {"x": {"field": "t", "type": "quantitative"}, "y": {"datum": 1e-3}, "y2": {"datum": 1e-7}}},
      {"data": {"values": [{"t": 0.78}]}, "mark": {"type": "rule", "color": "#888", "strokeWidth": 2}, "encoding": {"x": {"field": "t", "type": "quantitative"}, "y": {"datum": 1e-3}, "y2": {"datum": 1e-7}}},
      {"data": {"values": [{"t": 2.182, "f": 2.3e-4, "txt": "X4.9"}, {"t": 2.182, "f": 9.6e-5, "txt": "S12E82"}]}, "mark": {"type": "text", "align": "left", "baseline": "alphabetic", "fontSize": 23}, "encoding": {"x": {"field": "t", "type": "quantitative"}, "y": {"field": "f", "type": "quantitative"}, "text": {"field": "txt"}}}
     ]},
    {"width": 315, "height": 217, "title": {"text": "(d) 131 -- 2012-01-23 03:38"},
     "data": {"name": "gd"},
     "layer": [
      {"transform": [{"filter": "datum.t >= 3.63 && datum.t <= 4.578"}], "mark": {"type": "area", "clip": true, "fill": {"gradient": "linear", "x1": 0, "y1": 0, "x2": 0.647, "y2": 1.308, "stops": [{"offset":0.01,"color":"#fff"},{"offset":0.01,"color":"#333"},{"offset":0.0154,"color":"#333"},{"offset":0.0154,"color":"#fff"},{"offset":0.035,"color":"#fff"},{"offset":0.035,"color":"#333"},{"offset":0.0404,"color":"#333"},{"offset":0.0404,"color":"#fff"},{"offset":0.06,"color":"#fff"},{"offset":0.06,"color":"#333"},{"offset":0.0654,"color":"#333"},{"offset":0.0654,"color":"#fff"},{"offset":0.085,"color":"#fff"},{"offset":0.085,"color":"#333"},{"offset":0.0904,"color":"#333"},{"offset":0.0904,"color":"#fff"},{"offset":0.11,"color":"#fff"},{"offset":0.11,"color":"#333"},{"offset":0.1154,"color":"#333"},{"offset":0.1154,"color":"#fff"},{"offset":0.135,"color":"#fff"},{"offset":0.135,"color":"#333"},{"offset":0.1404,"color":"#333"},{"offset":0.1404,"color":"#fff"},{"offset":0.16,"color":"#fff"},{"offset":0.16,"color":"#333"},{"offset":0.1654,"color":"#333"},{"offset":0.1654,"color":"#fff"},{"offset":0.185,"color":"#fff"},{"offset":0.185,"color":"#333"},{"offset":0.1904,"color":"#333"},{"offset":0.1904,"color":"#fff"},{"offset":0.21,"color":"#fff"},{"offset":0.21,"color":"#333"},{"offset":0.2154,"color":"#333"},{"offset":0.2154,"color":"#fff"},{"offset":0.235,"color":"#fff"},{"offset":0.235,"color":"#333"},{"offset":0.2404,"color":"#333"},{"offset":0.2404,"color":"#fff"},{"offset":0.26,"color":"#fff"},{"offset":0.26,"color":"#333"},{"offset":0.2654,"color":"#333"},{"offset":0.2654,"color":"#fff"},{"offset":0.285,"color":"#fff"},{"offset":0.285,"color":"#333"},{"offset":0.2904,"color":"#333"},{"offset":0.2904,"color":"#fff"},{"offset":0.31,"color":"#fff"},{"offset":0.31,"color":"#333"},{"offset":0.3154,"color":"#333"},{"offset":0.3154,"color":"#fff"},{"offset":0.335,"color":"#fff"},{"offset":0.335,"color":"#333"},{"offset":0.3404,"color":"#333"},{"offset":0.3404,"color":"#fff"},{"offset":0.36,"color":"#fff"},{"offset":0.36,"color":"#333"},{"offset":0.3654,"color":"#333"},{"offset":0.3654,"color":"#fff"},{"offset":0.385,"color":"#fff"},{"offset":0.385,"color":"#333"},{"offset":0.3904,"color":"#333"},{"offset":0.3904,"color":"#fff"},{"offset":0.41,"color":"#fff"},{"offset":0.41,"color":"#333"},{"offset":0.4154,"color":"#333"},{"offset":0.4154,"color":"#fff"},{"offset":0.435,"color":"#fff"},{"offset":0.435,"color":"#333"},{"offset":0.4404,"color":"#333"},{"offset":0.4404,"color":"#fff"},{"offset":0.46,"color":"#fff"},{"offset":0.46,"color":"#333"},{"offset":0.4654,"color":"#333"},{"offset":0.4654,"color":"#fff"},{"offset":0.485,"color":"#fff"},{"offset":0.485,"color":"#333"},{"offset":0.4904,"color":"#333"},{"offset":0.4904,"color":"#fff"},{"offset":0.51,"color":"#fff"},{"offset":0.51,"color":"#333"},{"offset":0.5154,"color":"#333"},{"offset":0.5154,"color":"#fff"},{"offset":0.535,"color":"#fff"},{"offset":0.535,"color":"#333"},{"offset":0.5404,"color":"#333"},{"offset":0.5404,"color":"#fff"},{"offset":0.56,"color":"#fff"},{"offset":0.56,"color":"#333"},{"offset":0.5654,"color":"#333"},{"offset":0.5654,"color":"#fff"},{"offset":0.585,"color":"#fff"},{"offset":0.585,"color":"#333"},{"offset":0.5904,"color":"#333"},{"offset":0.5904,"color":"#fff"},{"offset":0.61,"color":"#fff"},{"offset":0.61,"color":"#333"},{"offset":0.6154,"color":"#333"},{"offset":0.6154,"color":"#fff"},{"offset":0.635,"color":"#fff"},{"offset":0.635,"color":"#333"},{"offset":0.6404,"color":"#333"},{"offset":0.6404,"color":"#fff"},{"offset":0.66,"color":"#fff"},{"offset":0.66,"color":"#333"},{"offset":0.6654,"color":"#333"},{"offset":0.6654,"color":"#fff"},{"offset":0.685,"color":"#fff"},{"offset":0.685,"color":"#333"},{"offset":0.6904,"color":"#333"},{"offset":0.6904,"color":"#fff"},{"offset":0.71,"color":"#fff"},{"offset":0.71,"color":"#333"},{"offset":0.7154,"color":"#333"},{"offset":0.7154,"color":"#fff"},{"offset":0.735,"color":"#fff"},{"offset":0.735,"color":"#333"},{"offset":0.7404,"color":"#333"},{"offset":0.7404,"color":"#fff"},{"offset":0.76,"color":"#fff"},{"offset":0.76,"color":"#333"},{"offset":0.7654,"color":"#333"},{"offset":0.7654,"color":"#fff"},{"offset":0.785,"color":"#fff"},{"offset":0.785,"color":"#333"},{"offset":0.7904,"color":"#333"},{"offset":0.7904,"color":"#fff"},{"offset":0.81,"color":"#fff"},{"offset":0.81,"color":"#333"},{"offset":0.8154,"color":"#333"},{"offset":0.8154,"color":"#fff"},{"offset":0.835,"color":"#fff"},{"offset":0.835,"color":"#333"},{"offset":0.8404,"color":"#333"},{"offset":0.8404,"color":"#fff"},{"offset":0.86,"color":"#fff"},{"offset":0.86,"color":"#333"},{"offset":0.8654,"color":"#333"},{"offset":0.8654,"color":"#fff"},{"offset":0.885,"color":"#fff"},{"offset":0.885,"color":"#333"},{"offset":0.8904,"color":"#333"},{"offset":0.8904,"color":"#fff"},{"offset":0.91,"color":"#fff"},{"offset":0.91,"color":"#333"},{"offset":0.9154,"color":"#333"},{"offset":0.9154,"color":"#fff"}]}}, "encoding": {
        "x": {"field": "t", "type": "quantitative", "scale": {"domain": [2.83, 6.61], "nice": false, "zero": false}, "axis": {"values": [3,4,5,6], "format": "d", "title": null, "labelPadding": 10}},
        "y": {"field": "f", "type": "quantitative", "scale": {"type": "log", "domain": [1e-7, 1e-3], "nice": false}, "axis": {"values": [1e-7,1e-6,1e-5,1e-4,1e-3], "labelExpr": "'10' + ['\u2070','\u207b\u00b9','\u207b\u00b2','\u207b\u00b3','\u207b\u2074','\u207b\u2075','\u207b\u2076','\u207b\u2077'][round(-log(datum.value)/LN10)]", "title": "GOES Flux", "titleX": -43, "labelOverlap": false}},
        "y2": {"datum": 1e-7}}},
      {"data": {"name": "lev"}, "mark": {"type": "rule", "strokeDash": [2,3], "color": "#444"}, "encoding": {"x": {"datum": 3.214}, "x2": {"datum": 6.61}, "y": {"field": "f", "type": "quantitative"}}},
      {"data": {"name": "lev"}, "mark": {"type": "text", "align": "left", "baseline": "alphabetic", "fontSize": 16}, "encoding": {"x": {"datum": 3.046}, "y": {"field": "f", "type": "quantitative"}, "text": {"field": "c"}}},
      {"mark": {"type": "line", "color": "#333", "strokeWidth": 1, "clip": true}, "encoding": {"x": {"field": "t", "type": "quantitative"}, "y": {"field": "f", "type": "quantitative"}}},
      {"data": {"name": "rd"}, "mark": {"type": "line", "color": "#b40000", "strokeWidth": 2, "clip": true}, "encoding": {"x": {"field": "t", "type": "quantitative"}, "y": {"field": "f", "type": "quantitative"}, "detail": {"field": "s"}}},
      {"data": {"values": [{"t": 3.75}]}, "mark": {"type": "rule", "color": "#e03c3c", "strokeWidth": 1}, "encoding": {"x": {"field": "t", "type": "quantitative"}, "y": {"datum": 1e-3}, "y2": {"datum": 1e-7}}},
      {"data": {"values": [{"t": 3.91}]}, "mark": {"type": "rule", "color": "#000", "strokeWidth": 1}, "encoding": {"x": {"field": "t", "type": "quantitative"}, "y": {"datum": 1e-3}, "y2": {"datum": 1e-7}}},
      {"data": {"values": [{"t": 5.494, "f": 2.3e-4, "txt": "M8.7"}, {"t": 5.494, "f": 9.6e-5, "txt": "N30W21"}]}, "mark": {"type": "text", "align": "left", "baseline": "alphabetic", "fontSize": 23}, "encoding": {"x": {"field": "t", "type": "quantitative"}, "y": {"field": "f", "type": "quantitative"}, "text": {"field": "txt"}}}
     ]},
    {"width": 315, "height": 217, "data": {"name": "dc"},
     "layer": [
      {"data": {"name": "fc"}, "mark": {"type": "line", "color": "#c00000", "strokeWidth": 1.5}, "encoding": {
        "x": {"field": "t", "type": "quantitative", "scale": {"domain": [-0.25, 3.2], "nice": false, "zero": false}, "axis": {"values": [0,0.5,1,1.5,2,2.5,3], "format": ".1f", "title": "Time\u00a0\u00a0t[hr]", "labelPadding": 13, "titleY": 39, "titleBaseline": "alphabetic"}},
        "y": {"field": "h", "type": "quantitative", "scale": {"domain": [0, 30], "nice": false, "zero": false}, "axis": {"values": [0,5,10,15,20,25,30], "tickCount": 7, "title": "Height R/R\u209b\u1d64\u2099", "titleX": -37, "labelOverlap": false}}}},
      {"data": {"values": [{}]}, "mark": {"type": "rule", "strokeDash": [2,3], "color": "#444"}, "encoding": {"x": {"datum": -0.25}, "x2": {"datum": 3.2}, "y": {"datum": 1}}},
      {"data": {"values": [{"t": 1.502}, {"t": 2.7}]}, "mark": {"type": "rule", "strokeDash": [2,3], "color": "#444"}, "encoding": {"x": {"field": "t", "type": "quantitative"}, "y": {"datum": 0}, "y2": {"datum": 30}}},
      {"data": {"values": [{"t": 0.728}]}, "mark": {"type": "rule", "color": "#e03c3c", "strokeWidth": 1}, "encoding": {"x": {"field": "t", "type": "quantitative"}, "y": {"datum": 1}, "y2": {"datum": 30}}},
      {"mark": {"type": "point", "shape": "diamond", "filled": false, "color": "#000", "strokeWidth": 1.5, "size": 110, "opacity": 1}, "encoding": {"x": {"field": "t", "type": "quantitative"}, "y": {"field": "h", "type": "quantitative"}}},
      {"data": {"name": "ann"}, "mark": {"type": "text", "align": "left", "baseline": "alphabetic", "fontSize": 18.5}, "encoding": {"x": {"datum": -0.086}, "y": {"field": "h", "type": "quantitative"}, "text": {"field": "a"}}},
      {"data": {"name": "ann"}, "mark": {"type": "text", "align": "left", "baseline": "alphabetic", "fontSize": 12.5, "dx": {"expr": "[6.2,9.3,10.3,8.3][datum.k]"}, "dy": 3}, "encoding": {"x": {"datum": -0.086}, "y": {"field": "h", "type": "quantitative"}, "text": {"field": "s"}}},
      {"data": {"name": "ann"}, "mark": {"type": "text", "align": "left", "baseline": "alphabetic", "fontSize": 18.5, "dx": {"expr": "[14.5,17.6,18.6,16.6][datum.k]"}}, "encoding": {"x": {"datum": -0.086}, "y": {"field": "h", "type": "quantitative"}, "text": {"field": "pc"}}},
      {"data": {"name": "ann"}, "mark": {"type": "text", "align": "left", "baseline": "alphabetic", "fontSize": 12.5, "dx": 100.4, "dy": 3}, "encoding": {"x": {"datum": -0.086}, "y": {"field": "h", "type": "quantitative"}, "text": {"field": "u"}}},
      {"data": {"values": [{}]}, "mark": {"type": "text", "align": "right", "baseline": "alphabetic", "fontSize": 24}, "encoding": {"x": {"datum": 2.828}, "y": {"datum": 2.53}, "text": {"value": "(c)"}}}
     ]},
    {"width": 315, "height": 217, "data": {"name": "dd"},
     "layer": [
      {"data": {"name": "fd"}, "mark": {"type": "line", "color": "#c00000", "strokeWidth": 1.5}, "encoding": {
        "x": {"field": "t", "type": "quantitative", "scale": {"domain": [2.83, 6.61], "nice": false, "zero": false}, "axis": {"values": [3,4,5,6], "format": "d", "title": "Time\u00a0\u00a0t[hr]", "labelPadding": 13, "titleY": 39, "titleBaseline": "alphabetic"}},
        "y": {"field": "h", "type": "quantitative", "scale": {"domain": [0, 30], "nice": false, "zero": false}, "axis": {"values": [0,5,10,15,20,25,30], "tickCount": 7, "title": "Height R/R\u209b\u1d64\u2099", "titleX": -37, "labelOverlap": false}}}},
      {"data": {"values": [{}]}, "mark": {"type": "rule", "strokeDash": [2,3], "color": "#444"}, "encoding": {"x": {"datum": 2.83}, "x2": {"datum": 6.61}, "y": {"datum": 1}}},
      {"data": {"values": [{"t": 4.0}, {"t": 6.11}]}, "mark": {"type": "rule", "strokeDash": [2,3], "color": "#444"}, "encoding": {"x": {"field": "t", "type": "quantitative"}, "y": {"datum": 0}, "y2": {"datum": 30}}},
      {"data": {"values": [{"t": 3.75}]}, "mark": {"type": "rule", "color": "#e03c3c", "strokeWidth": 1}, "encoding": {"x": {"field": "t", "type": "quantitative"}, "y": {"datum": 1}, "y2": {"datum": 30}}},
      {"mark": {"type": "point", "shape": "diamond", "filled": false, "color": "#000", "strokeWidth": 1.5, "size": 110, "opacity": 1}, "encoding": {"x": {"field": "t", "type": "quantitative"}, "y": {"field": "h", "type": "quantitative"}}},
      {"data": {"name": "ann"}, "mark": {"type": "text", "align": "left", "baseline": "alphabetic", "fontSize": 18.5}, "encoding": {"x": {"datum": 3.01}, "y": {"field": "h", "type": "quantitative"}, "text": {"field": "a"}}},
      {"data": {"name": "ann"}, "mark": {"type": "text", "align": "left", "baseline": "alphabetic", "fontSize": 12.5, "dx": {"expr": "[6.2,9.3,10.3,8.3][datum.k]"}, "dy": 3}, "encoding": {"x": {"datum": 3.01}, "y": {"field": "h", "type": "quantitative"}, "text": {"field": "s"}}},
      {"data": {"name": "ann"}, "mark": {"type": "text", "align": "left", "baseline": "alphabetic", "fontSize": 18.5, "dx": {"expr": "[14.5,17.6,18.6,16.6][datum.k]"}}, "encoding": {"x": {"datum": 3.01}, "y": {"field": "h", "type": "quantitative"}, "text": {"field": "pd"}}},
      {"data": {"name": "ann"}, "mark": {"type": "text", "align": "left", "baseline": "alphabetic", "fontSize": 12.5, "dx": 100.4, "dy": 3}, "encoding": {"x": {"datum": 3.01}, "y": {"field": "h", "type": "quantitative"}, "text": {"field": "u"}}},
      {"data": {"values": [{}]}, "mark": {"type": "text", "align": "right", "baseline": "alphabetic", "fontSize": 24}, "encoding": {"x": {"datum": 6.214}, "y": {"datum": 2.53}, "text": {"value": "(d)"}}}
     ]}
 ]}
]
}
